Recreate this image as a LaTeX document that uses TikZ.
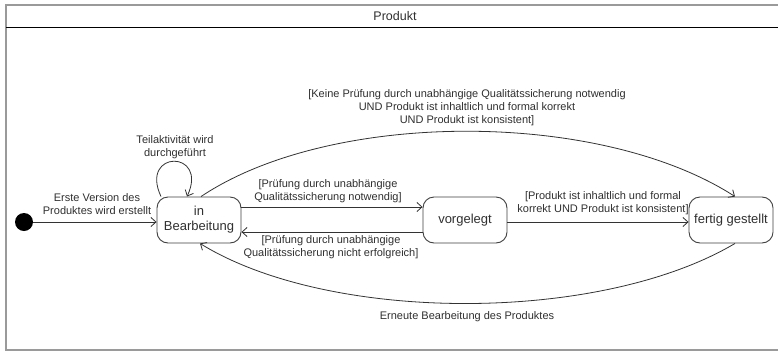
\documentclass[tikz,border=0pt]{standalone}
\usepackage{fontspec}
\setmainfont{Liberation Sans}
\usetikzlibrary{arrows.meta,calc}
\definecolor{framegray}{HTML}{9A9A9A}
\definecolor{txt}{HTML}{303030}
\begin{document}
\begin{tikzpicture}[x=1pt,y=-1pt,
  statebox/.style={draw=black!75, line width=0.9pt, rounded corners=11pt, minimum width=84pt, minimum height=46pt, align=center, font=\fontsize{13}{15}\selectfont, text=txt, inner sep=1pt},
  lbl/.style={font=\fontsize{11}{13}\selectfont, text=txt, align=center, inner sep=0pt},
  trans/.style={draw=black!80, line width=0.8pt, -{Straight Barb[length=5pt,width=9pt]}}]
\useasboundingbox (0,0) rectangle (778,351);
\fill[white] (0,0) rectangle (778,351);
% frame
\draw[framegray, line width=1.5pt] (778,5) -- (6,5) -- (6,350) -- (778,350);
\draw[black, line width=1pt] (6,27) -- (778,27);
\node[lbl, font=\fontsize{12.5}{14}\selectfont] (title) at (395,16) {Produkt};
% states
\fill[black] (24,222) circle (9);
\coordinate (init) at (33,222);
\node[statebox] (inB) at (199,220) {in\\Bearbeitung};
\node[statebox] (vor) at (465,220) {vorgelegt};
\node[statebox] (fert) at (731,220) {fertig gestellt};
% transitions
\draw[trans] (init) -- (inB.west |- init);
\node[lbl] (l1) at (97,204) {Erste Version des\\Produktes wird erstellt};
\draw[trans] ([xshift=-38pt]inB.north) .. controls +(-22,-47) and +(22,-47) .. ([xshift=-12pt]inB.north);
\node[lbl] (l2) at (175,147) {Teilaktivität wird\\durchgeführt};
\draw[trans] (inB.east |- 0,207) -- (vor.west |- 0,207);
\node[lbl] (l3) at (328,191) {[Prüfung durch unabhängige\\Qualitätssicherung notwendig]};
\draw[trans] (vor.west |- 0,232) -- (inB.east |- 0,232);
\node[lbl] (l4) at (331,247) {[Prüfung durch unabhängige\\Qualitätssicherung nicht erfolgreich]};
\draw[trans] (vor.east |- 0,222) -- (fert.west |- 0,222);
\node[lbl] (l5) at (603,203) {[Produkt ist inhaltlich und formal\\korrekt UND Produkt ist konsistent]};
\draw[trans] ([xshift=2pt]inB.north) .. controls +(130,-87) and +(-135,-87) .. ([xshift=4pt]fert.north);
\node[lbl] (l6) at (467,108) {[Keine Prüfung durch unabhängige Qualitätssicherung notwendig\\UND Produkt ist inhaltlich und formal korrekt\\UND Produkt ist konsistent]};
\draw[trans] ([xshift=4pt]fert.south) .. controls +(-135,80) and +(130,80) .. ([xshift=1pt]inB.south);
\node[lbl] (l7) at (467,317) {Erneute Bearbeitung des Produktes};
\end{tikzpicture}
\end{document}
